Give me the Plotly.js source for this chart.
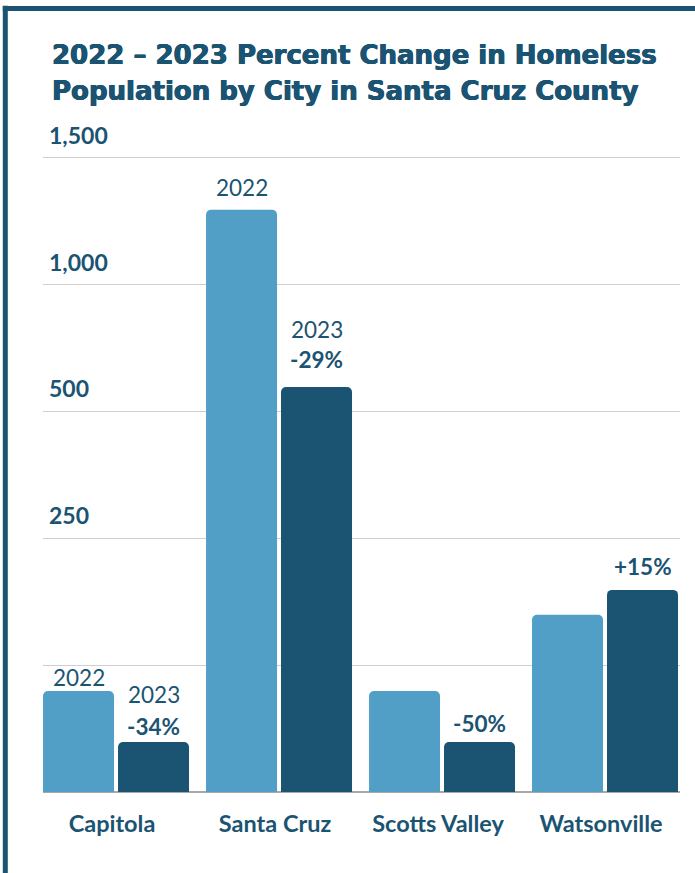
<!DOCTYPE html>
<html>
<head>
<meta charset="utf-8">
<script src="https://cdn.plot.ly/plotly-3.0.1.min.js"></script>
<style>
  html, body { margin: 0; padding: 0; background: #ffffff; }
  #chart { width: 695px; height: 873px; }
</style>
</head>
<body>
<div id="chart"></div>
<script>
// ---- data (bar heights read on the chart's plotted scale) ----
const cities = ["Capitola", "Santa Cruz", "Scotts Valley", "Watsonville"];
const values2022 = [239, 1377, 239, 419];
const values2023 = [118, 958, 118, 478];
const yearLabels2022 = ["2022", "2022", "", ""];
const yearLabels2023 = ["2023", "2023", "", ""];
const changeLabels = ["-34%", "-29%", "-50%", "+15%"];
const tickValues = [300, 600, 900, 1200, 1500];
const tickLabels = ["", "250", "500", "1,000", "1,500"];
const titleLines = ["2022 – 2023 Percent Change in Homeless",
                    "Population by City in Santa Cruz County"];

const navy = "#1b5472";
const light = "#519fc6";
const W = 695, H = 873;
const yMax = 1620;
const mL = 43, mR = 15, mB = 81;
const ph = 634 * yMax / 1500;
const mT = H - mB - ph;
const pw = W - mL - mR;
const px2x = p => (p - mL) / pw;
const py2y = p => (H - mB - p) / ph;

const traces = [
  { type: "bar", name: "2022", x: cities, y: values2022,
    marker: { color: light, cornerradius: 5, line: { width: 0 } },
    hoverinfo: "skip" },
  { type: "bar", name: "2023", x: cities, y: values2023,
    marker: { color: navy, cornerradius: 5, line: { width: 0 } },
    hoverinfo: "skip" }
];

const annFont = { family: "Lato, 'Open Sans', sans-serif", size: 22.5, color: navy };
const annFontB = { family: "Lato, 'Open Sans', sans-serif", size: 22.5, color: navy, weight: 700 };
// vertical nudges (px) for label placement
const shift2022 = [-2, 7, 0, 0];
const shiftYear23 = [32, 42, 0, 0];
const shiftChange = [0, 12, 3, 8];
const annotations = [];
const off = 0.23;
cities.forEach((c, i) => {
  if (yearLabels2022[i]) {
    annotations.push({ xref: "x", yref: "y", x: i - off, y: values2022[i],
      text: yearLabels2022[i], showarrow: false, yanchor: "bottom",
      yshift: shift2022[i], font: annFont });
  }
  if (yearLabels2023[i]) {
    annotations.push({ xref: "x", yref: "y", x: i + off, y: values2023[i],
      text: yearLabels2023[i], showarrow: false, yanchor: "bottom",
      yshift: shiftYear23[i], font: annFont });
  }
  annotations.push({ xref: "x", yref: "y", x: i + off, y: values2023[i],
    text: changeLabels[i], showarrow: false, yanchor: "bottom",
    yshift: shiftChange[i], font: annFontB });
});

// title (two lines)
const titleFont = { family: "'DejaVu Sans', sans-serif", size: 26, color: navy, weight: 700,
  shadow: "0.5px 0 0 " + navy + ", -0.5px 0 0 " + navy + ", 0 0.4px 0 " + navy };
[66, 102].forEach((base, k) => {
  annotations.push({ xref: "paper", yref: "paper", x: px2x(50), y: py2y(base + 6),
    xanchor: "left", yanchor: "bottom", align: "left", showarrow: false,
    text: titleLines[k], font: titleFont });
});

const shapes = [
  { type: "line", xref: "paper", yref: "paper", x0: px2x(5.3), x1: px2x(5.3),
    y0: py2y(6), y1: py2y(H + 5), line: { color: navy, width: 5 } },
  { type: "line", xref: "paper", yref: "paper", x0: px2x(2.8), x1: px2x(W + 5),
    y0: py2y(8.7), y1: py2y(8.7), line: { color: navy, width: 5 } }
];

const layout = {
  width: W, height: H,
  margin: { l: mL, r: mR, t: mT, b: mB, pad: 0 },
  paper_bgcolor: "#ffffff", plot_bgcolor: "#ffffff",
  showlegend: false,
  barmode: "group", bargap: 0.08, bargroupgap: 0.053,
  xaxis: {
    type: "category", range: [-0.448, 3.46],
    showgrid: false, zeroline: false, showline: false,
    ticks: "outside", ticklen: 11, tickcolor: "rgba(0,0,0,0)",
    ticklabelshift: -4,
    tickfont: { family: "Lato, 'Open Sans', sans-serif", size: 23.5, color: navy, weight: 700 },
    fixedrange: true
  },
  yaxis: {
    range: [0, yMax], tickmode: "array", tickvals: tickValues, ticktext: tickLabels,
    ticklabelposition: "inside top", ticklabelshift: -6, ticklabelstandoff: 3,
    showgrid: true, gridcolor: "#cfcfcf", gridwidth: 1,
    zeroline: true, zerolinecolor: "#a8a8a8", zerolinewidth: 2,
    showline: false, ticks: "",
    tickfont: { family: "Lato, 'Open Sans', sans-serif", size: 23, color: navy, weight: 700 },
    fixedrange: true
  },
  annotations: annotations,
  shapes: shapes
};

Plotly.newPlot("chart", traces, layout, { displayModeBar: false, staticPlot: true });
</script>
</body>
</html>
